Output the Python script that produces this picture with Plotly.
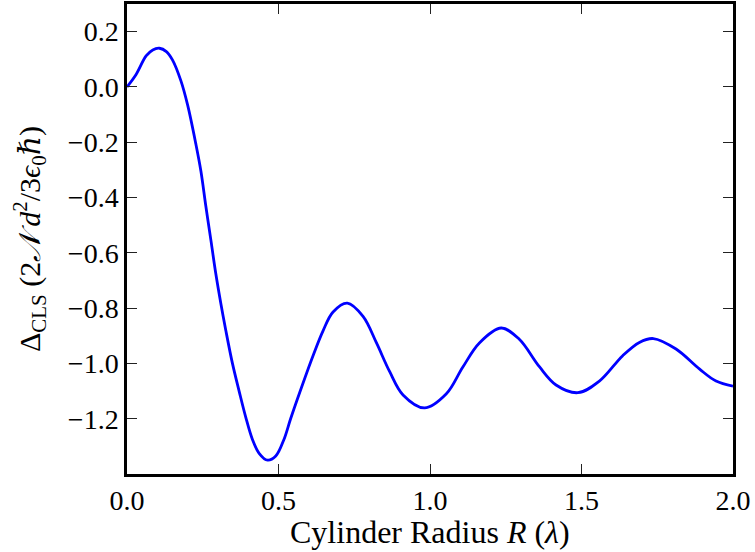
import plotly.graph_objects as go

# Data
radius = [0.0, 0.030, 0.063, 0.085, 0.107, 0.130, 0.150, 0.178, 0.200, 0.227, 0.244, 0.260,
          0.277, 0.293, 0.310, 0.326, 0.348, 0.370, 0.392, 0.414, 0.436, 0.464,
          0.491, 0.518, 0.540, 0.570, 0.614, 0.647, 0.680, 0.727, 0.779, 0.823,
          0.867, 0.911, 0.982, 1.054, 1.108, 1.163, 1.235, 1.294, 1.361, 1.416,
          1.488, 1.559, 1.636, 1.691, 1.737, 1.812, 1.889, 1.944, 2.0]
delta_cls = [0.0, 0.045, 0.112, 0.134, 0.140, 0.128, 0.098, 0.022, -0.065, -0.205, -0.305, -0.430,
             -0.555, -0.675, -0.785, -0.880, -1.000, -1.100, -1.195, -1.275, -1.325, -1.350,
             -1.335, -1.275, -1.200, -1.105, -0.972, -0.882, -0.814, -0.782, -0.830, -0.925,
             -1.030, -1.114, -1.161, -1.110, -1.014, -0.926, -0.872, -0.912, -1.012, -1.078,
             -1.106, -1.064, -0.972, -0.924, -0.910, -0.948, -1.020, -1.064, -1.082]

x_ticks = [0.0, 0.5, 1.0, 1.5, 2.0]
x_tick_labels = ["0.0", "0.5", "1.0", "1.5", "2.0"]
y_ticks = [0.2, 0.0, -0.2, -0.4, -0.6, -0.8, -1.0, -1.2]
y_tick_labels = ["0.2", "0.0", "\u22120.2", "\u22120.4", "\u22120.6", "\u22120.8", "\u22121.0", "\u22121.2"]

x_title = "Cylinder Radius <i>R</i> (<i>\u03bb</i>)"
y_title = ("\u0394<sub>CLS</sub> (2<i>\U0001D4A9</i>\u2009<i>d</i><sup>2</sup>/3<i>\u03f5</i>"
           "<sub>0</sub><i>\u210f</i>)")

FONT = "Liberation Serif, DejaVu Serif, serif"

fig = go.Figure()
fig.add_trace(go.Scatter(
    x=radius, y=delta_cls, mode="lines",
    line=dict(color="#0000ff", width=2.8, shape="spline", smoothing=1.0),
    showlegend=False, hoverinfo="skip",
))

axis_common = dict(
    showgrid=False, zeroline=False,
    showline=True, linecolor="black", linewidth=2.5, mirror="allticks",
    ticks="inside", ticklen=10, tickwidth=1.2, tickcolor="#222222",
    tickfont=dict(family=FONT, size=28, color="black"),
)

fig.update_xaxes(range=[0, 2], tickvals=x_ticks, ticktext=x_tick_labels, **axis_common)
fig.update_yaxes(range=[-1.4, 0.3], tickvals=y_ticks, ticktext=y_tick_labels, **axis_common)

fig.add_annotation(text=x_title, xref="paper", yref="paper", x=0.5, y=-0.1228,
                   xanchor="center", yanchor="middle", showarrow=False,
                   font=dict(family=FONT, size=32, color="black"))
fig.add_annotation(text=y_title, xref="paper", yref="paper", x=-0.1616, y=0.5,
                   xanchor="center", yanchor="middle", showarrow=False, textangle=-90,
                   font=dict(family=FONT, size=30, color="black"))

fig.update_layout(
    width=755, height=552,
    margin=dict(l=127, r=21.5, t=1.5, b=78),
    paper_bgcolor="white", plot_bgcolor="white",
)

fig.write_html("out.html")
